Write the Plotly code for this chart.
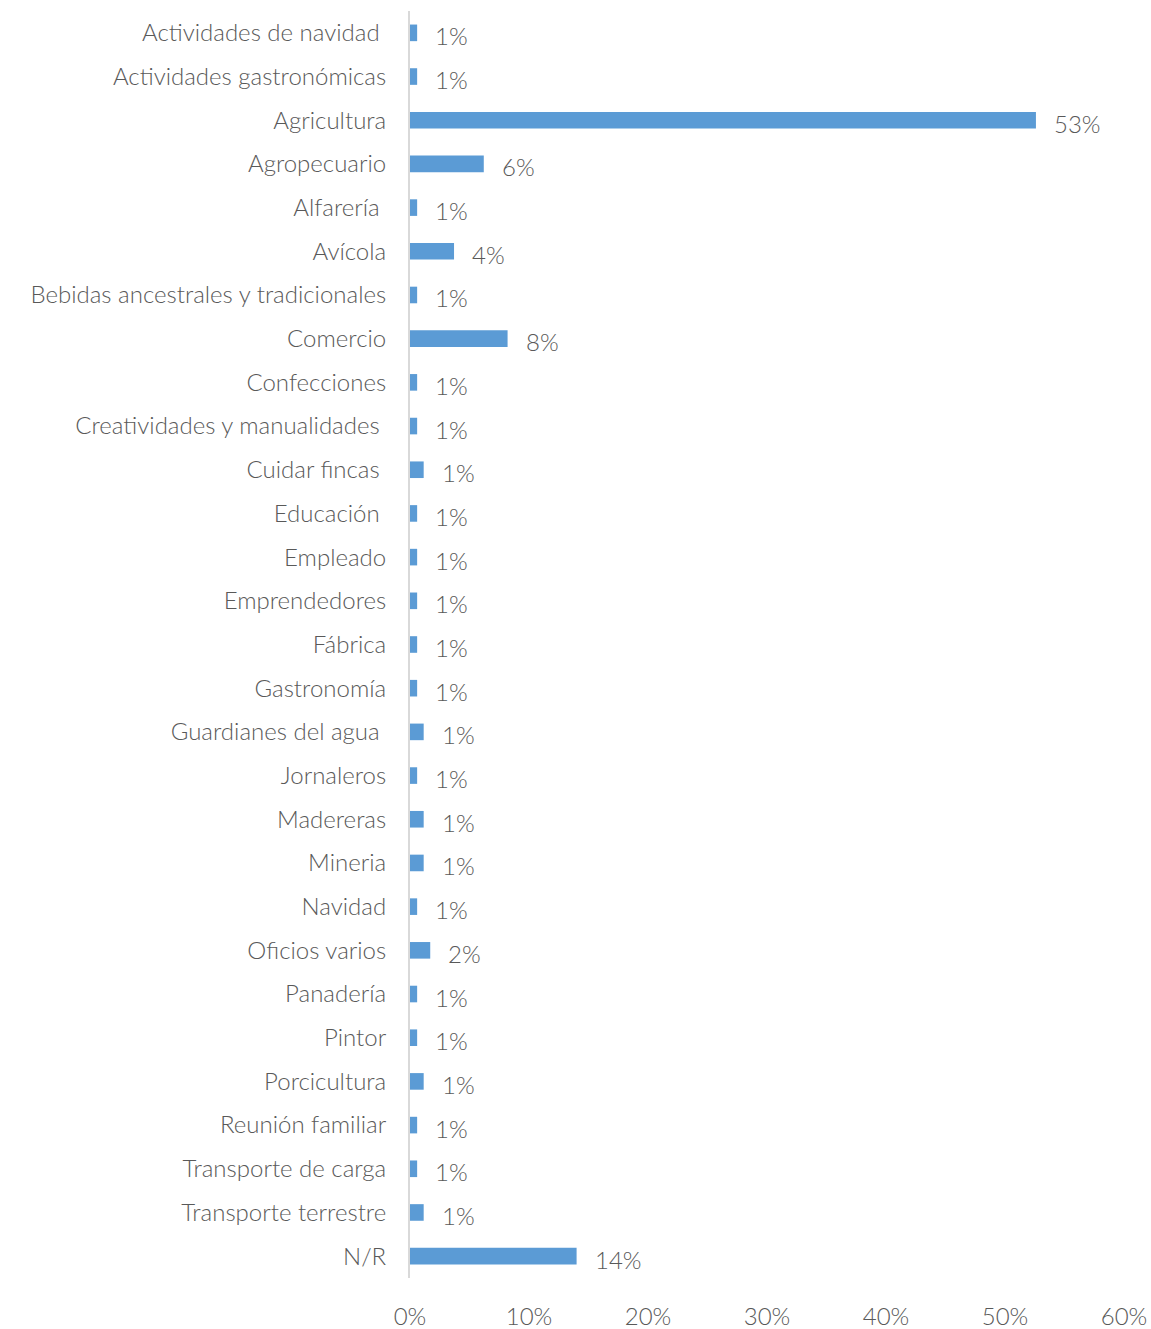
import plotly.graph_objects as go

categories = [
    "Actividades de navidad ", "Actividades gastronómicas", "Agricultura", "Agropecuario",
    "Alfarería ", "Avícola", "Bebidas ancestrales y tradicionales", "Comercio",
    "Confecciones", "Creatividades y manualidades ", "Cuidar fincas ", "Educación ",
    "Empleado", "Emprendedores", "Fábrica", "Gastronomía", "Guardianes del agua ",
    "Jornaleros", "Madereras", "Mineria", "Navidad", "Oficios varios", "Panadería",
    "Pintor", "Porcicultura", "Reunión familiar", "Transporte de carga",
    "Transporte terrestre", "N/R",
]
values = [
    0.6, 0.6, 52.6, 6.2,
    0.6, 3.7, 0.6, 8.2,
    0.6, 0.6, 1.15, 0.6,
    0.6, 0.6, 0.6, 0.6, 1.15,
    0.6, 1.15, 1.15, 0.6, 1.7, 0.6,
    0.6, 1.15, 0.6, 0.6,
    1.15, 14.0,
]
x_ticks = [0, 10, 20, 30, 40, 50, 60]
x_tick_labels = ["0%", "10%", "20%", "30%", "40%", "50%", "60%"]

FONT = "Lato"
GRAY = "#595959"
FS = 24

fig = go.Figure(go.Bar(
    y=categories,
    x=values,
    orientation="h",
    marker=dict(color="#5B9BD5", line=dict(width=0)),
    width=0.38,
    hoverinfo="x+y",
))

for c, v in zip(categories, values):
    fig.add_annotation(
        x=v, y=c, text=f"{v:.0f}%", showarrow=False,
        xanchor="left", yanchor="middle", xshift=16, yshift=-3,
        font=dict(family=FONT, size=FS, color=GRAY, weight=300),
    )

fig.update_layout(
    width=1151, height=1329,
    margin=dict(l=410, r=27, t=11, b=51, autoexpand=False),
    paper_bgcolor="white", plot_bgcolor="white",
    showlegend=False,
    font=dict(family=FONT, size=FS, color=GRAY, weight=300),
    xaxis=dict(
        range=[0, 60], tickvals=x_ticks, ticktext=x_tick_labels,
        showgrid=False, zeroline=False, showline=False, automargin=False,
        ticks="", ticklabelstandoff=22,
        tickfont=dict(family=FONT, size=FS, color=GRAY, weight=300),
    ),
    yaxis=dict(
        autorange="reversed", categoryorder="array", categoryarray=categories,
        showgrid=False, zeroline=False, automargin=False,
        showline=True, linecolor="#D9D9D9", linewidth=2,
        ticks="", ticklabelstandoff=17,
        tickfont=dict(family=FONT, size=FS, color=GRAY, weight=300),
    ),
)

fig.write_html("out.html")
